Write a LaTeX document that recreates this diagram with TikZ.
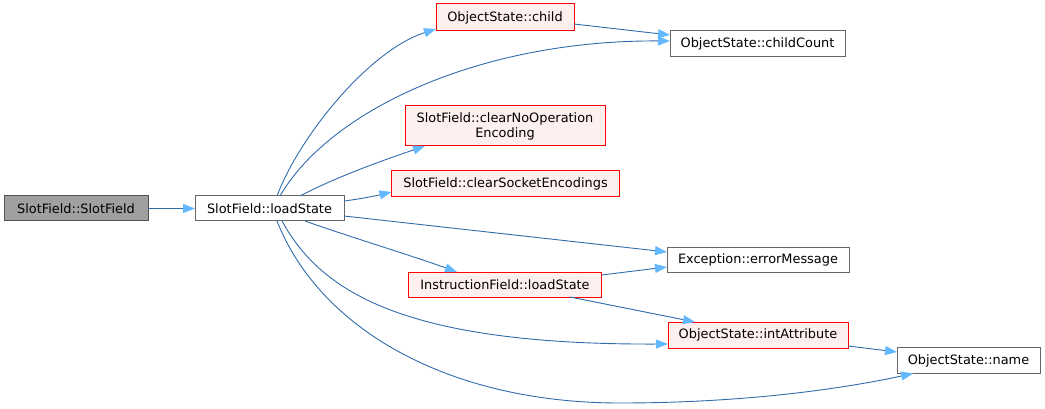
\documentclass[tikz,border=0pt]{standalone}
\usepackage{fontspec}
\setmainfont{DejaVu Sans}
\usetikzlibrary{arrows.meta}
\definecolor{edgeblue}{HTML}{2F6CAC}
\definecolor{tipblue}{HTML}{63B8FF}
\definecolor{redfill}{HTML}{FFF0F0}
\definecolor{grayfill}{HTML}{A0A0A0}
\definecolor{grayline}{HTML}{666666}
\begin{document}
\begin{tikzpicture}[x=1pt,y=-1pt,
  fn/.style={rectangle,inner sep=0pt,outer sep=0pt,line width=1pt,font=\fontsize{12.9}{15}\selectfont,align=center},
  plain/.style={fn,draw=grayline,fill=white},
  hit/.style={fn,draw=red,fill=redfill},
  root/.style={fn,draw=grayline!80!black,fill=grayfill},
  call/.style={draw=edgeblue,line width=0.9pt,-{Triangle[length=12pt,width=9pt,fill=tipblue,color=tipblue]}}]
\useasboundingbox (0,0) rectangle (1045,409);
\node[root,minimum width=144pt,minimum height=25pt] (sf) at (76,208.5) {SlotField::SlotField};
\node[plain,minimum width=149pt,minimum height=25pt] (ls) at (269.5,208.5) {SlotField::loadState};
\node[hit,minimum width=138pt,minimum height=27pt] (child) at (505,17.5) {ObjectState::child};
\node[plain,minimum width=175pt,minimum height=26pt] (cc) at (757.5,43.5) {ObjectState::childCount};
\node[hit,minimum width=200pt,minimum height=40pt] (cno) at (505,126) {SlotField::clearNoOperation\\Encoding};
\node[hit,minimum width=228pt,minimum height=26pt] (cse) at (505.5,183.5) {SlotField::clearSocketEncodings};
\node[plain,minimum width=182pt,minimum height=25pt] (em) at (758,259.5) {Exception::errorMessage};
\node[hit,minimum width=193pt,minimum height=25pt] (ifl) at (505,284.5) {InstructionField::loadState};
\node[hit,minimum width=180pt,minimum height=26pt] (ia) at (758,335) {ObjectState::intAttribute};
\node[plain,minimum width=143pt,minimum height=26pt] (nm) at (968.5,360.5) {ObjectState::name};

\draw[call] (sf.east) -- (ls.west);
\draw[call] ([xshift=7.5pt]ls.north) .. controls (300,135) and (370,50) .. ([yshift=2pt]child.south west);
\draw[call] ([xshift=10.5pt]ls.north) .. controls (330,110) and (480,40) .. ([yshift=2.5pt]cc.west);
\draw[call] ([xshift=30.5pt]ls.north) .. controls (340,175) and (390,158) .. ([xshift=20pt]cno.south west);
\draw[call] ([yshift=7.5pt]ls.east) .. controls (360,199) and (375,196) .. ([yshift=-8.5pt]cse.west);
\draw[call] ([yshift=-7.5pt]ls.east) -- ([yshift=7.5pt]em.west);
\draw[call] ([xshift=35.5pt]ls.south) .. controls (350,237) and (410,255) .. ([xshift=-48pt]ifl.north);
\draw[call] ([xshift=12.5pt]ls.south) .. controls (320,290) and (400,345) .. ([yshift=-9pt]ia.west);
\draw[call] ([xshift=7.5pt]ls.south) .. controls (320,330) and (450,403) .. (620,403) .. controls (760,403) and (860,385) .. ([xshift=-55.5pt]nm.south);
\draw[call] ([yshift=-6.5pt]child.east) -- ([yshift=8.5pt]cc.west);
\draw[call] ([yshift=9.5pt]ifl.east) -- ([yshift=-7.5pt]em.west);
\draw[call] ([xshift=65pt]ifl.south) -- ([xshift=-63pt]ia.north);
\draw[call] ([yshift=-11pt]ia.east) -- ([yshift=8.5pt]nm.west);
\end{tikzpicture}
\end{document}
